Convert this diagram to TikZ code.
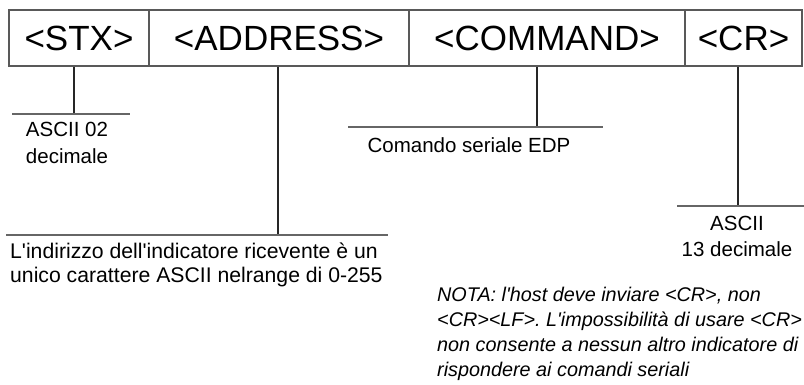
\documentclass[tikz,border=0pt]{standalone}
\usepackage{fontspec}
\setmainfont{Liberation Sans}
\usetikzlibrary{positioning,calc}
\tikzset{
  cellbox/.style={draw=black!65,line width=1.6pt,minimum height=56pt,inner sep=0pt,text=black,font=\fontsize{35}{40}\selectfont},
  lead/.style={draw=black!85,line width=1.1pt},
  rulel/.style={draw=black!60,line width=1.4pt},
  lbl/.style={inner sep=0pt,text=black,align=center,font=\fontsize{20.5}{27}\selectfont},
  notalbl/.style={lbl,align=left,font=\itshape\fontsize{19.8}{25}\selectfont}
}
\newcommand{\sq}{\textquotesingle}
\frenchspacing

\begin{document}
\begin{tikzpicture}[x=1pt,y=-1pt]
  \useasboundingbox (0,0) rectangle (804,385);
  % frame
  \node[cellbox,minimum width=140pt] (stx) at (79,38) {<STX>};
  \node[cellbox,minimum width=260pt] (addr) at (279,38) {<ADDRESS>};
  \node[cellbox,minimum width=276pt] (cmd) at (547,38) {<COMMAND>};
  \node[cellbox,minimum width=117pt] (cr) at (743.5,38) {<CR>};

  % leaders and rules
  \coordinate (stxT) at (74,114);
  \coordinate (addrT) at (278,235);
  \coordinate (cmdT) at (537,127);
  \coordinate (crT) at (738,206);
  \draw[lead] (stx.south -| stxT) -- (stxT);
  \draw[lead] (addr.south -| addrT) -- (addrT);
  \draw[lead] (cmd.south -| cmdT) -- (cmdT);
  \draw[lead] (cr.south -| crT) -- (crT);
  \draw[rulel] (12,114) -- (stxT) -- (130,114);
  \draw[rulel] (6,235) -- (addrT) -- (388,235);
  \draw[rulel] (348,127) -- (cmdT) -- (603,127);
  \draw[rulel] (677,206) -- (crT) -- (804,206);

  % labels (base = last line)
  \node[lbl,anchor=base] (stxlbl) at (67,164) {ASCII 02\\decimale};
  \node[lbl,align=left,anchor=base west,font=\fontsize{21.2}{24}\selectfont] (addrlbl) at (10,282) {L\sq indirizzo dell\sq indicatore ricevente è un\\unico carattere ASCII nelrange di 0-255};
  \node[lbl,anchor=base] (cmdlbl) at (469,153) {Comando seriale EDP};
  \node[lbl,anchor=base,font=\fontsize{20.5}{26}\selectfont] (crlbl) at (737,256) {ASCII\\13 decimale};
  \node[notalbl,anchor=base west] (nota) at (437,376) {NOTA: l\sq host deve inviare <CR>, non\\<CR><LF>. L\sq impossibilità di usare <CR>\\non consente a nessun altro indicatore di\\rispondere ai comandi seriali};
\end{tikzpicture}
\end{document}
